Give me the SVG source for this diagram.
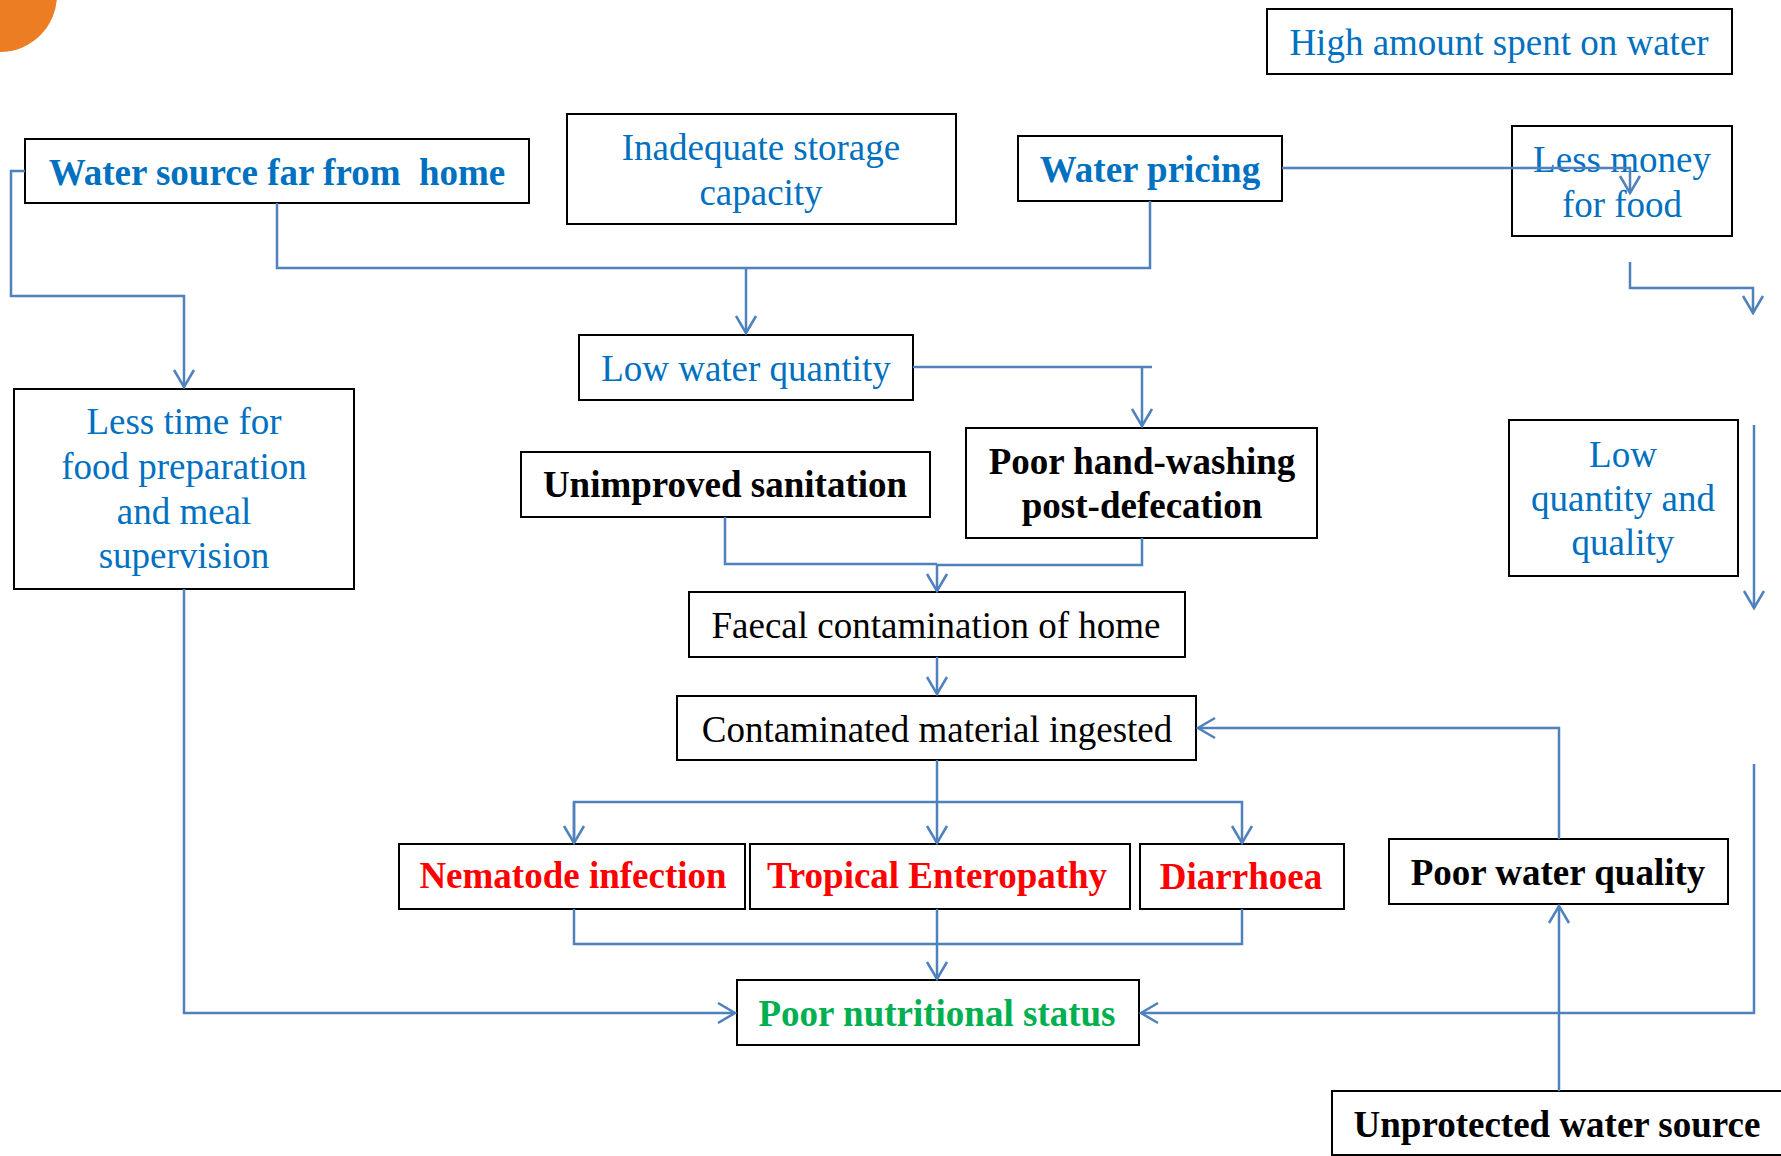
<svg xmlns="http://www.w3.org/2000/svg" width="1781" height="1156" viewBox="0 0 1781 1156">
<style>
  .box { fill: #ffffff; stroke: #000000; stroke-width: 2; }
  .t { font-family: "Liberation Serif", "Times New Roman", serif; font-size: 37px; text-anchor: middle; white-space: pre; }
  .b { font-weight: bold; }
  .blue { fill: #0070C0; }
  .black { fill: #000000; }
  .red { fill: #FF0000; }
  .green { fill: #00B050; }
  .c { fill: none; stroke: #4F81BD; stroke-width: 2.5; }
</style>
<defs>
  <marker id="arr" markerUnits="userSpaceOnUse" viewBox="-20 -12 24 24" refX="0" refY="0" markerWidth="24" markerHeight="24" orient="auto">
    <path d="M-17,-10 L0,0 L-17,10" fill="none" stroke="#4F81BD" stroke-width="2.5"/>
  </marker>
</defs>
<rect width="1781" height="1156" fill="#ffffff"/>
<circle cx="0" cy="-5" r="57" fill="#ED7D22"/>

<g id="high-amount">
  <rect class="box" x="1267" y="9" width="465" height="65"/>
  <text class="t blue" x="1499" y="55">High amount spent on water</text>
</g>
<g id="water-source">
  <rect class="box" x="25" y="139" width="504" height="64"/>
  <text class="t b blue" x="277" y="185">Water source far from  home</text>
</g>
<g id="inadequate-storage">
  <rect class="box" x="567" y="114" width="389" height="110"/>
  <text class="t blue" x="761" y="160">Inadequate storage</text>
  <text class="t blue" x="761" y="205">capacity</text>
</g>
<g id="water-pricing">
  <rect class="box" x="1018" y="136" width="264" height="65"/>
  <text class="t b blue" x="1150" y="182">Water pricing</text>
</g>
<g id="less-money">
  <rect class="box" x="1512" y="126" width="220" height="110"/>
  <text class="t blue" x="1622" y="172">Less money</text>
  <text class="t blue" x="1622" y="217">for food</text>
</g>
<g id="low-water-quantity">
  <rect class="box" x="579" y="335" width="334" height="65"/>
  <text class="t blue" x="746" y="381">Low water quantity</text>
</g>
<g id="less-time">
  <rect class="box" x="14" y="389" width="340" height="200"/>
  <text class="t blue" x="184" y="434">Less time for</text>
  <text class="t blue" x="184" y="479">food preparation</text>
  <text class="t blue" x="184" y="524">and meal</text>
  <text class="t blue" x="184" y="568">supervision</text>
</g>
<g id="low-quantity-quality">
  <rect class="box" x="1509" y="420" width="229" height="156"/>
  <text class="t blue" x="1623" y="467">Low</text>
  <text class="t blue" x="1623" y="511">quantity and</text>
  <text class="t blue" x="1623" y="555">quality</text>
</g>
<g id="unimproved-sanitation">
  <rect class="box" x="521" y="452" width="409" height="65"/>
  <text class="t b black" x="725" y="497">Unimproved sanitation</text>
</g>
<g id="poor-hand-washing">
  <rect class="box" x="966" y="428" width="351" height="110"/>
  <text class="t b black" x="1142" y="474">Poor hand-washing</text>
  <text class="t b black" x="1142" y="518">post-defecation</text>
</g>
<g id="faecal-contamination">
  <rect class="box" x="689" y="592" width="496" height="65"/>
  <text class="t black" x="936" y="638">Faecal contamination of home</text>
</g>
<g id="contaminated-material">
  <rect class="box" x="677" y="696" width="519" height="64"/>
  <text class="t black" x="937" y="742">Contaminated material ingested</text>
</g>
<g id="nematode-infection">
  <rect class="box" x="399" y="844" width="346" height="65"/>
  <text class="t b red" x="573" y="888">Nematode infection</text>
</g>
<g id="tropical-enteropathy">
  <rect class="box" x="750" y="844" width="380" height="65"/>
  <text class="t b red" x="937" y="888">Tropical Enteropathy</text>
</g>
<g id="diarrhoea">
  <rect class="box" x="1140" y="844" width="204" height="65"/>
  <text class="t b red" x="1241" y="889">Diarrhoea</text>
</g>
<g id="poor-water-quality">
  <rect class="box" x="1389" y="839" width="339" height="65"/>
  <text class="t b black" x="1558" y="885">Poor water quality</text>
</g>
<g id="poor-nutritional-status">
  <rect class="box" x="737" y="980" width="402" height="65"/>
  <text class="t b green" x="937" y="1026">Poor nutritional status</text>
</g>
<g id="unprotected-water-source">
  <rect class="box" x="1332" y="1091" width="470" height="64"/>
  <text class="t b black" x="1557" y="1137">Unprotected water source</text>
</g>

<g id="connectors">
  <path class="c" d="M25,171 H11 V296 H184 V387" marker-end="url(#arr)"/>
  <path class="c" d="M277,203 V268 H1150 V201"/>
  <path class="c" d="M746,268 V333" marker-end="url(#arr)"/>
  <path class="c" d="M1282,168 H1630 V193" marker-end="url(#arr)"/>
  <path class="c" d="M1630,262 V288 H1753 V313" marker-end="url(#arr)"/>
  <path class="c" d="M1754,425 V608" marker-end="url(#arr)"/>
  <path class="c" d="M1754,764 V1013 H1141" marker-end="url(#arr)"/>
  <path class="c" d="M1559,1091 V906" marker-end="url(#arr)"/>
  <path class="c" d="M1559,839 V728 H1198" marker-end="url(#arr)"/>
  <path class="c" d="M913,367 H1152"/>
  <path class="c" d="M1142,367 V426" marker-end="url(#arr)"/>
  <path class="c" d="M725,517 V564 H937"/>
  <path class="c" d="M1142,538 V565 H937"/>
  <path class="c" d="M937,564 V591" marker-end="url(#arr)"/>
  <path class="c" d="M937,657 V694" marker-end="url(#arr)"/>
  <path class="c" d="M937,760 V843" marker-end="url(#arr)"/>
  <path class="c" d="M574,843 V802 H1242 V843" marker-end="url(#arr)"/>
  <path class="c" d="M574,802 V843" marker-end="url(#arr)"/>
  <path class="c" d="M574,909 V944 H1242 V909"/>
  <path class="c" d="M937,909 V979" marker-end="url(#arr)"/>
  <path class="c" d="M184,589 V1013 H735" marker-end="url(#arr)"/>
</g>
</svg>
